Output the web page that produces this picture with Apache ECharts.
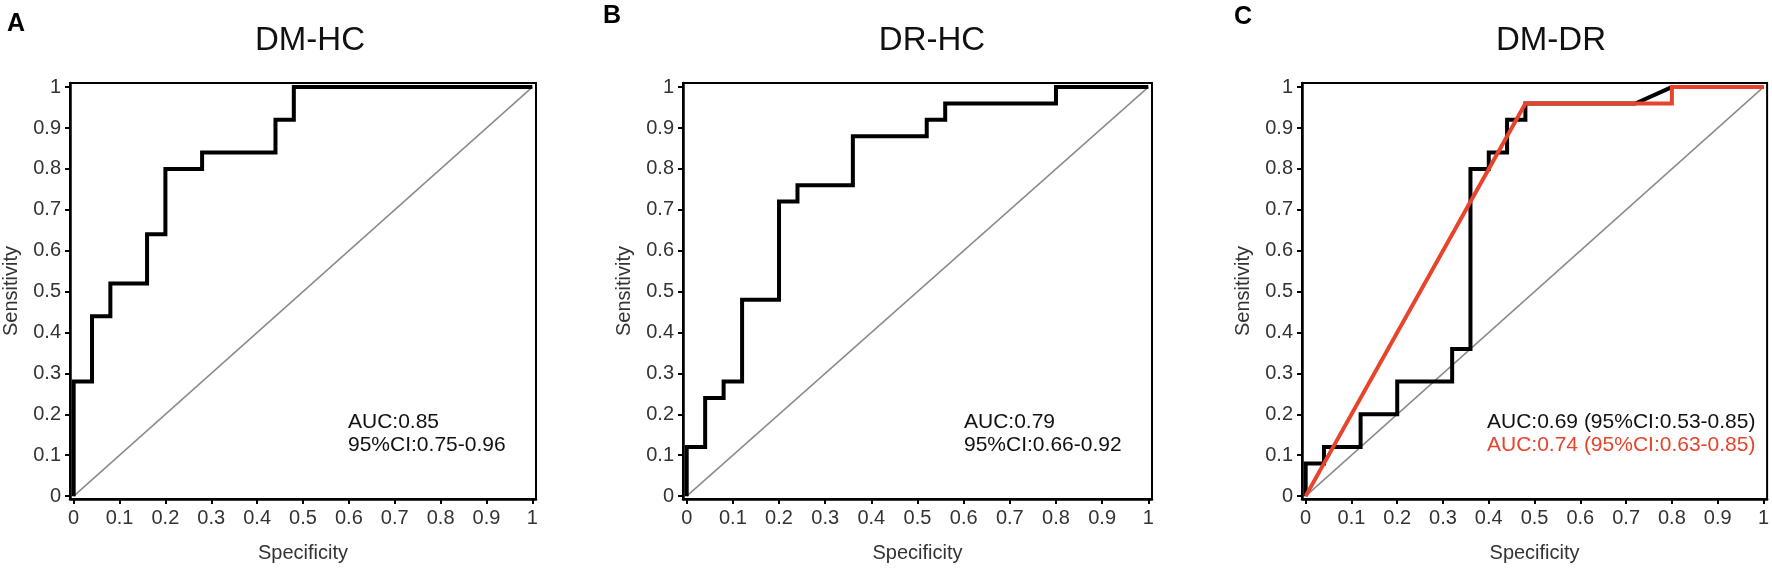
<!DOCTYPE html>
<html lang="en">
<head>
  <meta charset="UTF-8">
  <title>ROC curves</title>
  <script src="https://cdn.jsdelivr.net/npm/echarts@6/dist/echarts.min.js"></script>
  <style>
    html, body, #chart {
      width: 100%;
      height: 100%;
      margin: 0;
      padding: 0;
      background: #fff;
    }
  </style>
</head>
<body>
  <div id="chart"></div>
  <script>
    const tickValues = [0, 0.1, 0.2, 0.3, 0.4, 0.5, 0.6, 0.7, 0.8, 0.9, 1]
    const panelTitles = ['DM-HC', 'DR-HC', 'DM-DR']
    const panelLetters = ['A', 'B', 'C']

    // chance line
    const diagX = [0, 1]
    const diagY = [0, 1]

    // A: DM-HC
    const specA = [0, 0, 0.04, 0.04, 0.08, 0.08, 0.16, 0.16, 0.2, 0.2, 0.28, 0.28, 0.44, 0.44, 0.48, 0.48, 1]
    const sensA = [0, 0.28, 0.28, 0.44, 0.44, 0.52, 0.52, 0.64, 0.64, 0.8, 0.8, 0.84, 0.84, 0.92, 0.92, 1, 1]

    // B: DR-HC
    const specB = [0, 0, 0.04, 0.04, 0.08, 0.08, 0.12, 0.12, 0.2, 0.2, 0.24, 0.24, 0.36, 0.36, 0.52, 0.52, 0.56, 0.56, 0.8, 0.8, 1]
    const sensB = [0, 0.12, 0.12, 0.24, 0.24, 0.28, 0.28, 0.48, 0.48, 0.72, 0.72, 0.76, 0.76, 0.88, 0.88, 0.92, 0.92, 0.96, 0.96, 1, 1]

    // C: DM-DR, black and red curves
    const specC = [0, 0, 0.04, 0.04, 0.12, 0.12, 0.2, 0.2, 0.32, 0.32, 0.36, 0.36, 0.4, 0.4, 0.44, 0.44, 0.48, 0.48, 0.72, 0.8, 1]
    const sensC = [0, 0.08, 0.08, 0.12, 0.12, 0.2, 0.2, 0.28, 0.28, 0.36, 0.36, 0.8, 0.8, 0.84, 0.84, 0.92, 0.92, 0.96, 0.96, 1, 1]
    const specC2 = [0, 0.48, 0.8, 0.8, 1]
    const sensC2 = [0, 0.96, 0.96, 1, 1]

    const aucLines = [
      [{ text: 'AUC:0.85', color: '#111' }, { text: '95%CI:0.75-0.96', color: '#111' }],
      [{ text: 'AUC:0.79', color: '#111' }, { text: '95%CI:0.66-0.92', color: '#111' }],
      [{ text: 'AUC:0.69 (95%CI:0.53-0.85)', color: '#111' }, { text: 'AUC:0.74 (95%CI:0.63-0.85)', color: '#e8432b' }]
    ]

    const FONT = '"Liberation Sans", Arial, Helvetica, sans-serif'
    const RED = '#e8432b'

    // layout
    const gridLefts = [67, 683, 1302]
    const gridTop = 83
    const gridW = 469
    const gridH = 416
    const titleX = [310, 932, 1551]
    const letterPos = [[16, 24], [612, 16], [1243, 17]]
    const aucX = [348, 964, 1487]

    const zip = (xs, ys) => xs.map((x, i) => [x, ys[i]])
    const fmt = v => String(+(+v).toFixed(1))

    function makeXAxis(i) {
      return {
        type: 'value',
        gridIndex: i,
        min: -0.008,
        max: 1.008,
        name: 'Specificity',
        nameLocation: 'middle',
        nameGap: 44,
        nameTextStyle: { fontSize: 20, color: '#333', fontFamily: FONT },
        axisLine: { show: true, onZero: false, lineStyle: { color: '#000', width: 2.5 } },
        axisTick: { show: true, inside: false, length: 5, customValues: tickValues, lineStyle: { color: '#000', width: 2 } },
        axisLabel: { customValues: tickValues, formatter: fmt, fontSize: 20, color: '#333', fontFamily: FONT, margin: 9 },
        splitLine: { show: false }
      }
    }

    function makeYAxis(i) {
      return {
        type: 'value',
        gridIndex: i,
        min: -0.007,
        max: 1.01,
        name: 'Sensitivity',
        nameLocation: 'middle',
        nameGap: 49,
        nameTextStyle: { fontSize: 20, color: '#333', fontFamily: FONT },
        axisLine: { show: true, onZero: false, lineStyle: { color: '#000', width: 2.5 } },
        axisTick: { show: true, inside: false, length: 5, customValues: tickValues, lineStyle: { color: '#000', width: 2 } },
        axisLabel: { customValues: tickValues, formatter: fmt, fontSize: 20, color: '#333', fontFamily: FONT, margin: 9 },
        splitLine: { show: false }
      }
    }

    function lineSeries(i, data, color, width, z) {
      return {
        type: 'line',
        xAxisIndex: i,
        yAxisIndex: i,
        data,
        showSymbol: false,
        symbol: 'none',
        z,
        lineStyle: { color, width, join: 'miter', cap: 'butt' },
        emphasis: { disabled: true }
      }
    }

    const chart = echarts.init(document.getElementById('chart'))

    const grids = gridLefts.map(left => ({
      left, top: gridTop, width: gridW, height: gridH,
      show: true, borderColor: '#000', borderWidth: 2, backgroundColor: 'transparent'
    }))

    const series = []
    for (let i = 0; i < 3; i++) {
      series.push(lineSeries(i, zip(diagX, diagY), '#8a8a8a', 1.5, 1))
    }
    series.push(lineSeries(0, zip(specA, sensA), '#000', 4, 3))
    series.push(lineSeries(1, zip(specB, sensB), '#000', 4, 3))
    series.push(lineSeries(2, zip(specC, sensC), '#000', 4, 3))
    series.push(lineSeries(2, zip(specC2, sensC2), RED, 4, 4))

    const graphic = []
    for (let i = 0; i < 3; i++) {
      graphic.push({
        type: 'text', x: letterPos[i][0], y: letterPos[i][1],
        style: { text: panelLetters[i], font: 'bold 25px ' + FONT, fill: '#000', textAlign: 'center', textVerticalAlign: 'middle', align: 'center', verticalAlign: 'middle' }
      })
      graphic.push({
        type: 'text', x: titleX[i], y: 41,
        style: { text: panelTitles[i], font: '33px ' + FONT, fill: '#111', textAlign: 'center', textVerticalAlign: 'middle', align: 'center', verticalAlign: 'middle' }
      })
      aucLines[i].forEach((ln, k) => {
        graphic.push({
          type: 'text', x: aucX[i], y: 422 + k * 23,
          style: { text: ln.text, font: '21px ' + FONT, fill: ln.color, textAlign: 'left', textVerticalAlign: 'middle', align: 'left', verticalAlign: 'middle' }
        })
      })
    }

    chart.setOption({
      animation: false,
      backgroundColor: '#fff',
      grid: grids,
      xAxis: [0, 1, 2].map(makeXAxis),
      yAxis: [0, 1, 2].map(makeYAxis),
      series,
      graphic
    })
  </script>
</body>
</html>
